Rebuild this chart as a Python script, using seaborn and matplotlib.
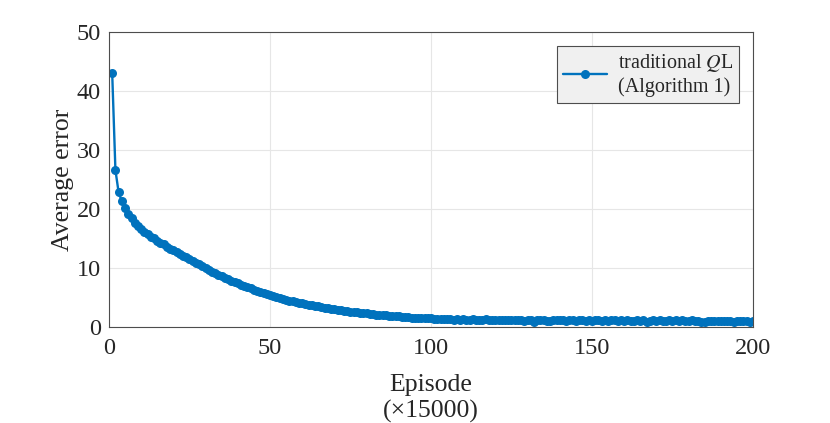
import numpy as np
import pandas as pd
import matplotlib
matplotlib.use('Agg')
import matplotlib.pyplot as plt
import seaborn as sns

sns.set_style('white')
plt.rcParams['font.family'] = ['Liberation Serif', 'DejaVu Serif']
plt.rcParams['mathtext.fontset'] = 'stix'

# average error per episode block (episodes 1..200)
head = [43.0, 26.6, 22.8, 21.3, 20.2, 19.2, 18.4, 17.7, 17.1, 16.6,
        16.1, 15.7, 15.3, 15.0, 14.6, 14.3, 14.0, 13.6, 13.3, 13.0,
        12.7, 12.4, 12.1, 11.8, 11.5, 11.2, 10.9, 10.6, 10.3, 10.0,
        9.7, 9.4, 9.1, 8.85, 8.6, 8.35, 8.1, 7.85, 7.6, 7.4,
        7.15, 6.95, 6.75, 6.55, 6.35, 6.15, 5.95, 5.75, 5.55, 5.4]
middle = [5.2, 5.05, 4.9, 4.75, 4.6, 4.45, 4.35, 4.2, 4.1, 4.0,
          3.9, 3.8, 3.7, 3.6, 3.5, 3.4, 3.3, 3.2, 3.1, 3.0,
          2.9, 2.85, 2.75, 2.7, 2.6, 2.55, 2.5, 2.4, 2.35, 2.3,
          2.2, 2.15, 2.1, 2.05, 2.0, 1.95, 1.9, 1.85, 1.8, 1.8,
          1.75, 1.7, 1.65, 1.6, 1.6, 1.55, 1.5, 1.5, 1.45, 1.45]
tail = [1.4, 1.35, 1.4, 1.3, 1.35, 1.3, 1.25, 1.3, 1.2, 1.3,
        1.25, 1.2, 1.3, 1.15, 1.25, 1.2, 1.3, 1.2, 1.15, 1.25,
        1.2, 1.1, 1.25, 1.15, 1.2, 1.1, 1.2, 1.15, 1.05, 1.2,
        1.1, 0.9, 1.15, 1.1, 1.2, 1.05, 0.95, 1.15, 1.1, 1.15,
        1.1, 1.05, 1.15, 1.1, 1.0, 1.1, 1.15, 1.05, 1.1, 1.0,
        1.1, 1.2, 1.05, 1.1, 1.0, 1.15, 1.2, 1.05, 1.1, 1.0,
        1.1, 0.95, 1.05, 1.15, 1.0, 1.1, 0.9, 1.05, 1.1, 1.0,
        1.2, 1.05, 0.95, 1.1, 1.05, 1.15, 1.0, 1.1, 1.05, 1.0,
        1.15, 1.0, 0.95, 0.85, 0.9, 1.0, 0.95, 1.0, 1.05, 1.0,
        0.95, 1.05, 1.0, 0.9, 1.0, 1.05, 0.95, 1.0, 0.9, 1.05]
error = head + middle + tail
episode = list(range(1, len(error) + 1))

xticks = [0, 50, 100, 150, 200]
yticks = [0, 10, 20, 30, 40, 50]

df = pd.DataFrame({'episode': episode, 'error': error})

blue = '#0072BD'
axcol = '#4d4d4d'
txtcol = '#262626'

fig = plt.figure(figsize=(8.3, 4.23), dpi=100)
ax = fig.add_axes([0.1313, 0.227, 0.7759, 0.6973])

sns.lineplot(data=df, x='episode', y='error', ax=ax, color=blue, marker='o',
             markersize=6.5, markeredgewidth=0, linewidth=1.7,
             label='traditional $Q$L\n(Algorithm 1)')

ax.set_xlim(0, 200)
ax.set_ylim(0, 50)
ax.set_xticks(xticks)
ax.set_yticks(yticks)
ax.grid(True, color='#e6e6e6', linewidth=0.8)
ax.set_axisbelow(True)
for s in ax.spines.values():
    s.set_visible(True)
    s.set_color(axcol)
    s.set_linewidth(0.8)
ax.tick_params(direction='in', length=5, width=0.8, color=axcol,
               labelsize=17.5, labelcolor=txtcol, top=False, right=False)
ax.tick_params(axis='x', pad=8)
ax.tick_params(axis='y', pad=6)

ax.set_xlabel('Episode\n(×15000)', fontsize=18.5, color=txtcol, linespacing=1.2,
              labelpad=11)
ax.set_ylabel('Average error', fontsize=18.5, color=txtcol, labelpad=2)

leg = ax.legend(loc='upper right', fontsize=14.5, frameon=True, fancybox=False,
                framealpha=1, handlelength=2.2, borderaxespad=0.7,
                labelspacing=0.15, borderpad=0.3, handletextpad=0.5)
leg.get_frame().set_facecolor('#f0f0f0')
leg.get_frame().set_edgecolor(axcol)
leg.get_frame().set_linewidth(0.8)
for t in leg.get_texts():
    t.set_color(txtcol)

fig.savefig('out.png', dpi=100)
